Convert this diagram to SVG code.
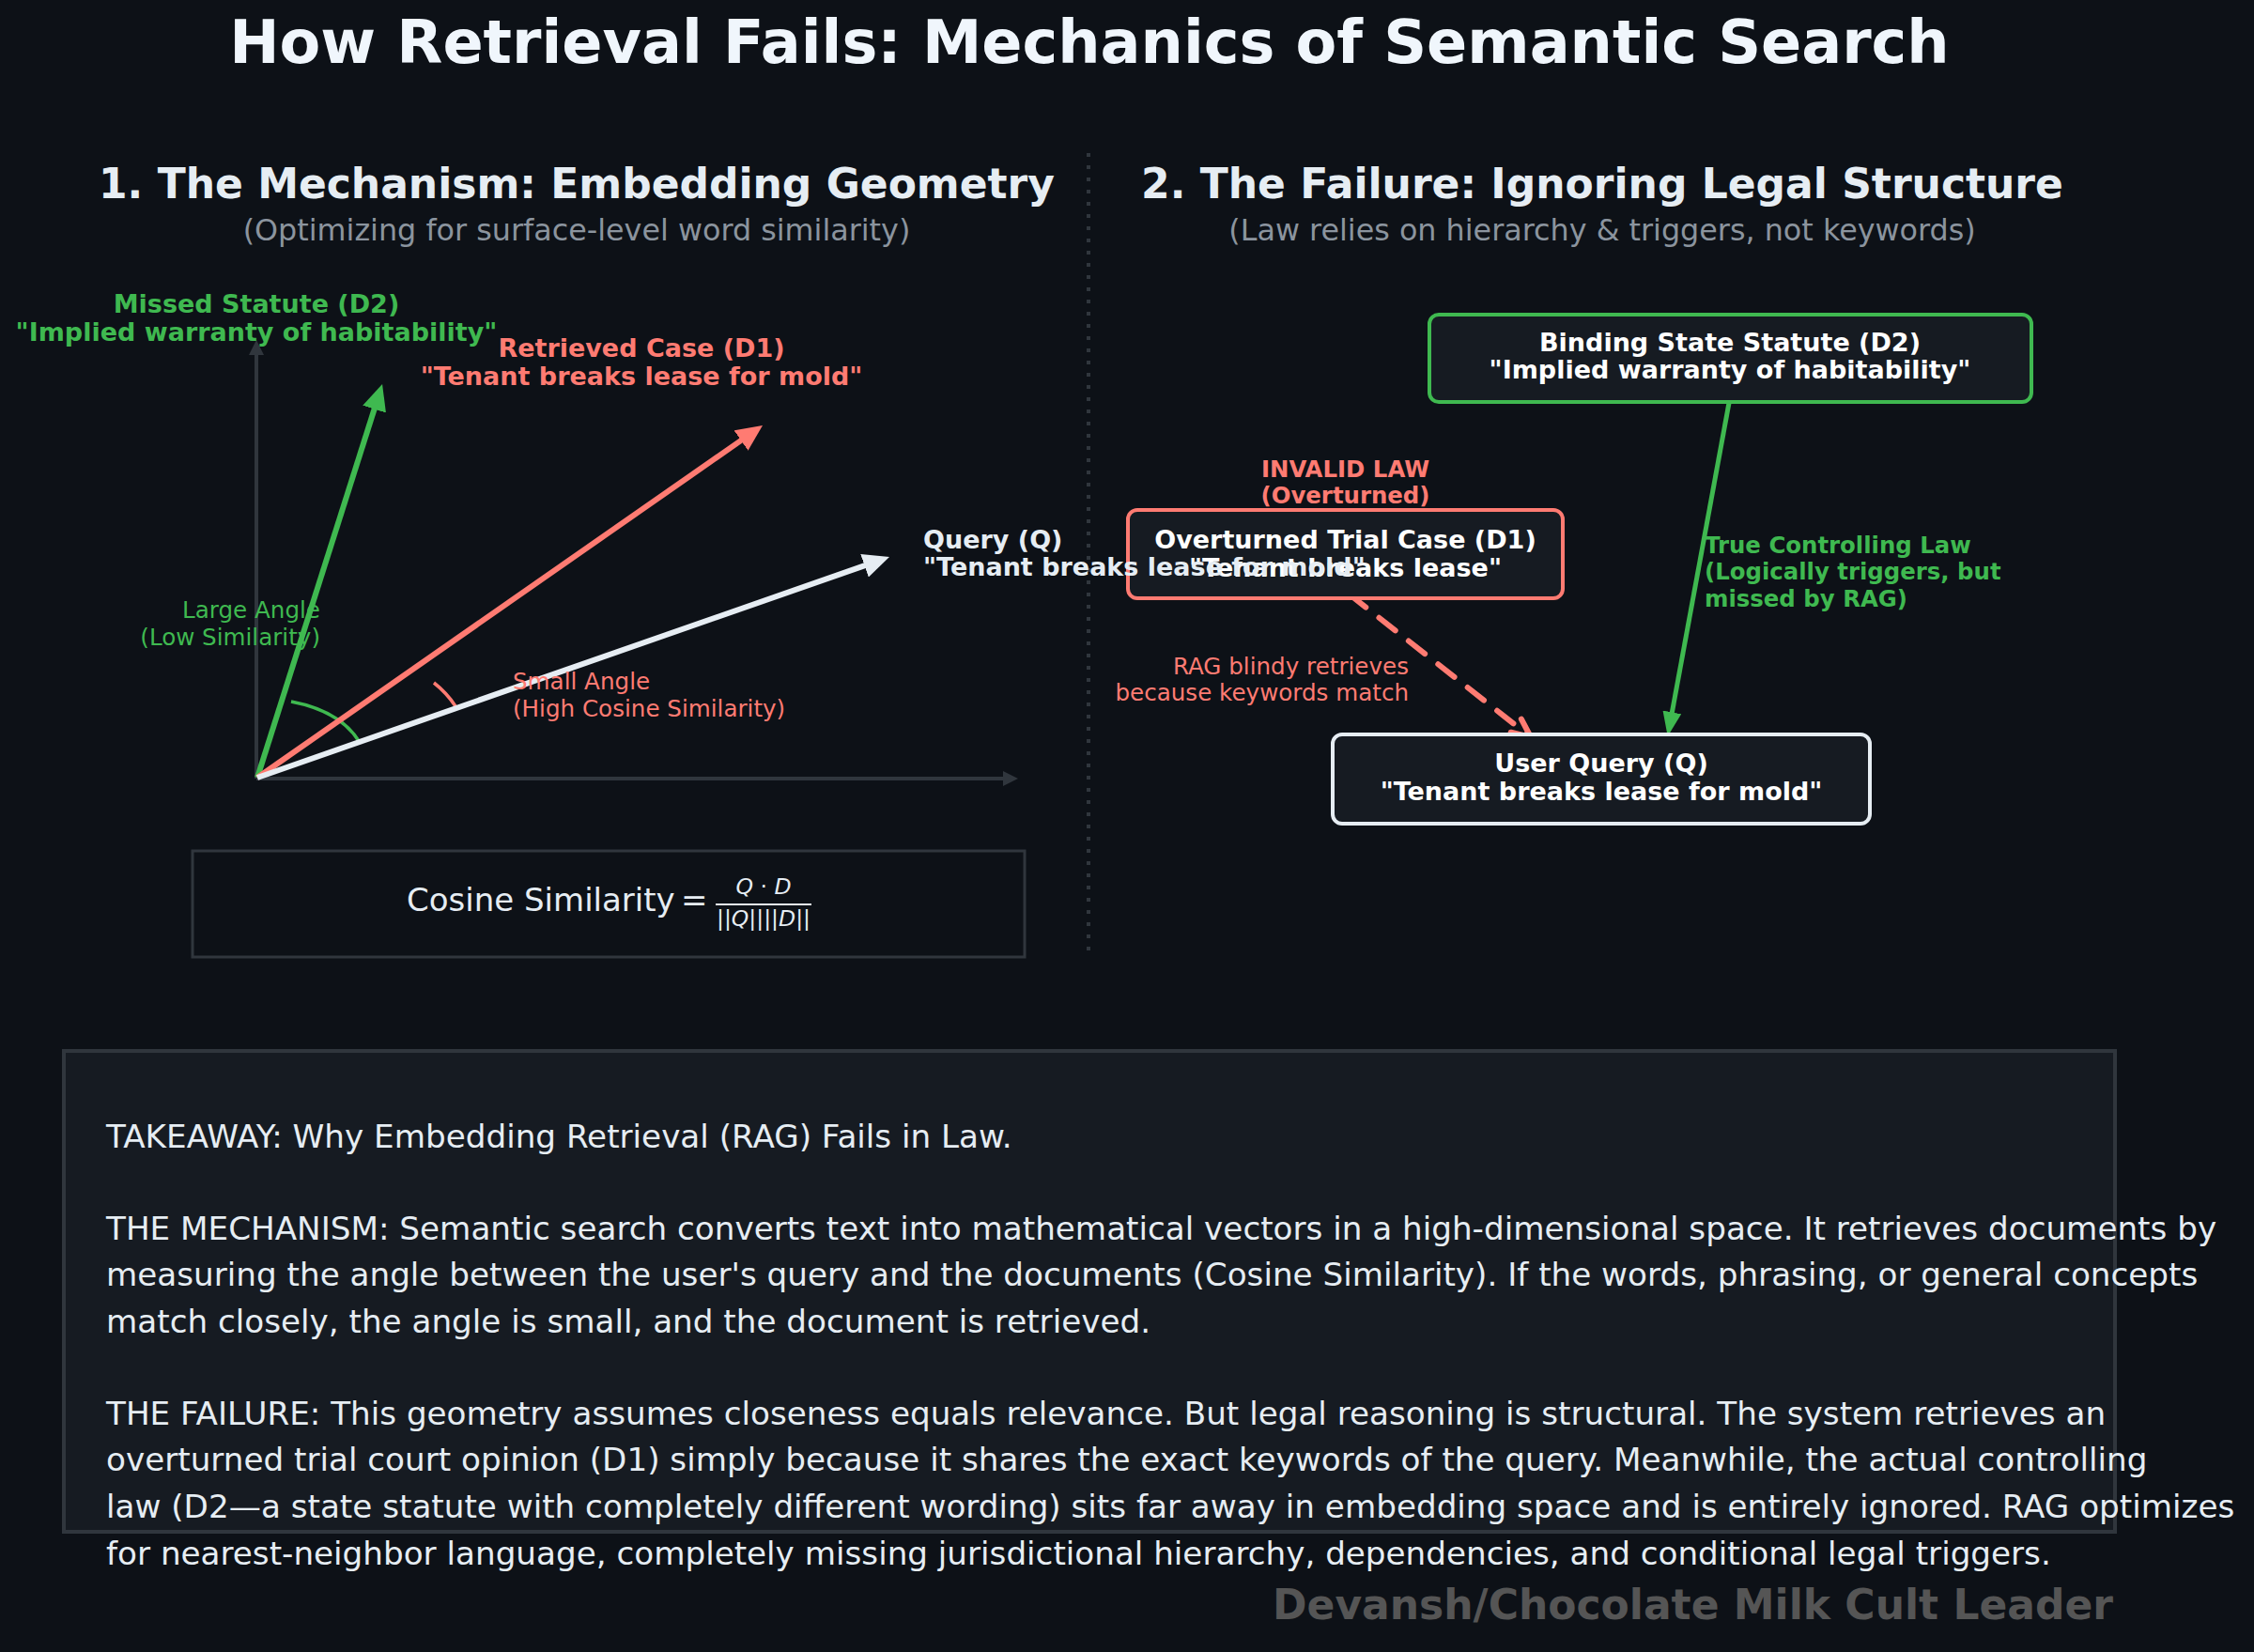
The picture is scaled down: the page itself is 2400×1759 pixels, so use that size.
<svg xmlns="http://www.w3.org/2000/svg" width="2400" height="1759" viewBox="0 0 2400 1759">
<style>
text{font-family:"DejaVu Sans","Liberation Sans",sans-serif}
.title{font-size:63.7px;font-weight:bold;fill:#f0f6fc}
.head{font-size:44px;font-weight:bold;fill:#e6edf3}
.sub{font-size:31.8px;fill:#8b949e}
.lblb{font-size:27px;font-weight:bold}
.ann{font-size:24.4px;font-weight:bold}
.small{font-size:24.6px}
.body{font-size:34.2px;fill:#e6edf3}
.node rect{fill:#161b22;stroke-width:4}
.nodetxt{font-size:27px;font-weight:bold;fill:#ffffff;text-anchor:middle}
.g{fill:#3fb950}.r{fill:#ff7b72}.w{fill:#e6edf3}
</style>
<defs>
<marker id="mk-green" markerUnits="userSpaceOnUse" markerWidth="28" markerHeight="26" viewBox="0 0 28 26" refX="8" refY="13" orient="auto"><path d="M0,0 L28,13 L0,26 z" fill="#3fb950"/></marker>
<marker id="mk-red" markerUnits="userSpaceOnUse" markerWidth="28" markerHeight="26" viewBox="0 0 28 26" refX="8" refY="13" orient="auto"><path d="M0,0 L28,13 L0,26 z" fill="#ff7b72"/></marker>
<marker id="mk-white" markerUnits="userSpaceOnUse" markerWidth="28" markerHeight="26" viewBox="0 0 28 26" refX="8" refY="13" orient="auto"><path d="M0,0 L28,13 L0,26 z" fill="#e6edf3"/></marker>
<marker id="mk-axis" markerUnits="userSpaceOnUse" markerWidth="16" markerHeight="16" viewBox="0 0 16 16" refX="4" refY="8" orient="auto"><path d="M0,0 L16,8 L0,16 z" fill="#30363d"/></marker>
<marker id="mk-conn-green" markerUnits="userSpaceOnUse" markerWidth="26" markerHeight="20" viewBox="0 0 26 20" refX="6" refY="10" orient="auto"><path d="M0,0 L26,10 L0,20 z" fill="#3fb950"/></marker>
<marker id="mk-conn-red" markerUnits="userSpaceOnUse" markerWidth="26" markerHeight="22" viewBox="0 0 26 22" refX="22" refY="11" orient="auto" overflow="visible"><path d="M2,2 L22,11 L2,20" fill="none" stroke="#ff7b72" stroke-width="6" stroke-linecap="round" stroke-linejoin="round"/></marker>
</defs>
<rect x="0" y="0" width="2400" height="1759" fill="#0d1117"/>

<text class="title" x="1160" y="67" text-anchor="middle">How Retrieval Fails: Mechanics of Semantic Search</text>
<text class="head" x="614" y="211" text-anchor="middle">1. The Mechanism: Embedding Geometry</text>
<text class="sub" x="614" y="256" text-anchor="middle">(Optimizing for surface-level word similarity)</text>
<text class="head" x="1706" y="211" text-anchor="middle">2. The Failure: Ignoring Legal Structure</text>
<text class="sub" x="1706" y="256" text-anchor="middle">(Law relies on hierarchy &amp; triggers, not keywords)</text>
<line x1="1159" y1="163" x2="1159" y2="1018" stroke="#30363d" stroke-width="4" stroke-dasharray="4,9"/>

<g id="embedding-plot">
<line x1="273" y1="829" x2="273" y2="374" stroke="#30363d" stroke-width="4" marker-end="url(#mk-axis)"/>
<line x1="273" y1="829" x2="1072" y2="829" stroke="#30363d" stroke-width="4" marker-end="url(#mk-axis)"/>
<path d="M310,747 Q362,757 382,789" fill="none" stroke="#3fb950" stroke-width="3.5"/>
<path d="M462,727 Q476,738 485,752" fill="none" stroke="#ff7b72" stroke-width="3.5"/>
<line x1="274" y1="828" x2="401" y2="428" stroke="#3fb950" stroke-width="6" marker-end="url(#mk-green)"/>
<line x1="274" y1="828" x2="795.6" y2="464.4" stroke="#ff7b72" stroke-width="6" marker-end="url(#mk-red)"/>
<line x1="274" y1="828" x2="928.1" y2="599.6" stroke="#e6edf3" stroke-width="6" marker-end="url(#mk-white)"/>
<text class="lblb g" text-anchor="middle"><tspan x="273" y="333">Missed Statute (D2)</tspan><tspan x="273" y="363">"Implied warranty of habitability"</tspan></text>
<text class="lblb r" text-anchor="middle"><tspan x="683" y="380">Retrieved Case (D1)</tspan><tspan x="683" y="410">"Tenant breaks lease for mold"</tspan></text>
<text class="small g" text-anchor="end"><tspan x="341" y="658">Large Angle</tspan><tspan x="341" y="687">(Low Similarity)</tspan></text>
<text class="small r"><tspan x="546" y="734">Small Angle</tspan><tspan x="546" y="763">(High Cosine Similarity)</tspan></text>
</g>

<g id="formula">
<rect x="205" y="906" width="886" height="113" fill="none" stroke="#30363d" stroke-width="3"/>
<text x="433" y="970" font-size="34" fill="#e6edf3">Cosine Similarity</text>
<text x="725" y="970" font-size="34" fill="#e6edf3">=</text>
<text x="813" y="952" font-size="23.5" fill="#e6edf3" text-anchor="middle"><tspan font-style="italic">Q</tspan> · <tspan font-style="italic">D</tspan></text>
<line x1="762" y1="963" x2="864" y2="963" stroke="#e6edf3" stroke-width="2"/>
<text x="813" y="986" font-size="23.5" fill="#e6edf3" text-anchor="middle">||<tspan font-style="italic">Q</tspan>||||<tspan font-style="italic">D</tspan>||</text>
</g>

<g id="connectors">
<line x1="1437" y1="633" x2="1630" y2="785" stroke="#ff7b72" stroke-width="6" stroke-dasharray="22,18" stroke-linecap="round" marker-end="url(#mk-conn-red)"/>
<line x1="1841" y1="429" x2="1779.3" y2="764.3" stroke="#3fb950" stroke-width="5" marker-end="url(#mk-conn-green)"/>
</g>

<g id="node-d2" class="node">
<rect x="1522" y="335" width="641" height="93" rx="10" stroke="#3fb950"/>
<text class="nodetxt"><tspan x="1842" y="374">Binding State Statute (D2)</tspan><tspan x="1842" y="403">"Implied warranty of habitability"</tspan></text>
</g>

<g id="node-d1" class="node">
<rect x="1201" y="543" width="463" height="94" rx="10" stroke="#ff7b72"/>
<text class="nodetxt"><tspan x="1432.5" y="584">Overturned Trial Case (D1)</tspan><tspan x="1432.5" y="614">"Tenant breaks lease"</tspan></text>
</g>

<g id="node-q" class="node">
<rect x="1419" y="782" width="572" height="95" rx="10" stroke="#e6edf3"/>
<text class="nodetxt"><tspan x="1705" y="822">User Query (Q)</tspan><tspan x="1705" y="852">"Tenant breaks lease for mold"</tspan></text>
</g>

<g id="labels-right">
<text class="ann r" text-anchor="middle"><tspan x="1432.5" y="508">INVALID LAW</tspan><tspan x="1432.5" y="536">(Overturned)</tspan></text>
<text class="ann g"><tspan x="1815" y="589">True Controlling Law</tspan><tspan x="1815" y="617">(Logically triggers, but</tspan><tspan x="1815" y="646">missed by RAG)</tspan></text>
<text class="small r" font-size="24.8" text-anchor="end"><tspan x="1500" y="718">RAG blindy retrieves</tspan><tspan x="1500" y="746">because keywords match</tspan></text>
</g>

<g id="query-label">
<text class="lblb w"><tspan x="983" y="584">Query (Q)</tspan><tspan x="983" y="613">"Tenant breaks lease for mold"</tspan></text>
</g>

<g id="takeaway">
<rect x="68" y="1119" width="2184" height="512" fill="#161b22" stroke="#30363d" stroke-width="4"/>
<text class="body">
<tspan x="113" y="1222">TAKEAWAY: Why Embedding Retrieval (RAG) Fails in Law.</tspan>
<tspan x="113" y="1320">THE MECHANISM: Semantic search converts text into mathematical vectors in a high-dimensional space. It retrieves documents by</tspan>
<tspan x="113" y="1369">measuring the angle between the user's query and the documents (Cosine Similarity). If the words, phrasing, or general concepts</tspan>
<tspan x="113" y="1419">match closely, the angle is small, and the document is retrieved.</tspan>
<tspan x="113" y="1517">THE FAILURE: This geometry assumes closeness equals relevance. But legal reasoning is structural. The system retrieves an</tspan>
<tspan x="113" y="1566">overturned trial court opinion (D1) simply because it shares the exact keywords of the query. Meanwhile, the actual controlling</tspan>
<tspan x="113" y="1616">law (D2—a state statute with completely different wording) sits far away in embedding space and is entirely ignored. RAG optimizes</tspan>
<tspan x="113" y="1666">for nearest-neighbor language, completely missing jurisdictional hierarchy, dependencies, and conditional legal triggers.</tspan>
</text>
</g>

<text x="2250" y="1724" font-size="44" font-weight="bold" fill="#555555" text-anchor="end">Devansh/Chocolate Milk Cult Leader</text>
</svg>
